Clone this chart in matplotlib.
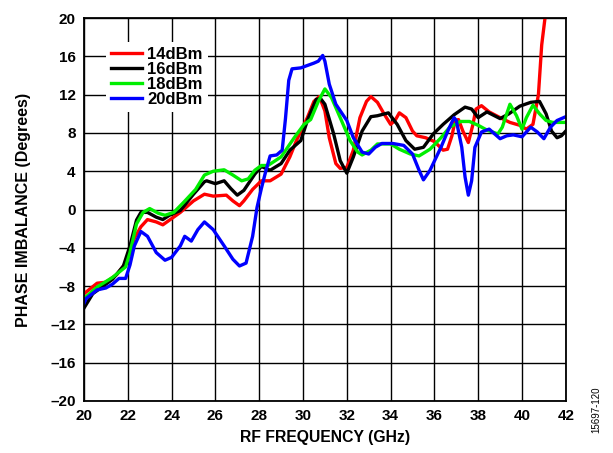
import matplotlib.pyplot as plt
from matplotlib.ticker import MultipleLocator, FuncFormatter

plt.rcParams['font.family'] = ['Liberation Sans', 'DejaVu Sans']

# phase imbalance vs RF frequency
red_x = [20.0, 20.6, 21.0, 21.5, 21.9, 22.0, 22.3, 22.6, 22.9, 23.3, 23.6, 24.0, 24.4, 25.0, 25.5,
         25.9, 26.5, 26.8, 27.1, 27.3, 27.7, 28.1, 28.5, 29.0, 29.4, 29.7, 30.2, 30.5, 30.75, 31.0,
         31.2, 31.5, 31.7, 32.0, 32.3, 32.6, 32.9, 33.1, 33.4, 33.7, 34.0, 34.2, 34.4, 34.7, 35.0,
         35.2, 35.6, 36.0, 36.4, 36.6, 36.8, 36.95, 37.1, 37.3, 37.55, 37.75, 37.9, 38.15, 38.5, 39.0,
         39.45, 39.9, 40.2, 40.5, 40.75, 40.9, 41.05, 41.15]
red_y = [-8.8, -7.7, -7.6, -6.8, -5.6, -5.2, -3.0, -1.8, -1.05, -1.3, -1.6, -0.95, -0.3, 0.9, 1.6,
         1.4, 1.5, 0.9, 0.4, 0.9, 2.1, 3.0, 3.0, 3.7, 5.5, 7.2, 9.6, 11.3, 11.8, 10.3,
         7.5, 4.8, 4.3, 4.4, 6.2, 9.6, 11.3, 11.8, 11.2, 10.0, 8.9, 9.3, 10.1, 9.6, 8.2,
         7.7, 7.5, 7.1, 6.2, 6.3, 7.7, 9.3, 9.4, 8.2, 7.0, 8.8, 10.5, 10.85, 10.2, 9.6,
         9.1, 8.8, 8.4, 8.9, 12.0, 17.2, 20.0, 23.0]

black_x = [20.0, 20.4, 21.0, 21.3, 21.8, 22.1, 22.4, 22.6, 22.9, 23.3, 23.6, 23.9, 24.4, 25.0, 25.5,
           25.6, 26.0, 26.4, 26.7, 27.0, 27.3, 27.8, 28.1, 28.5, 29.0, 29.4, 29.9, 30.2, 30.6, 30.8,
           31.0, 31.4, 31.7, 32.0, 32.3, 32.7, 33.1, 33.4, 33.9, 34.3, 34.7, 35.1, 35.5, 35.95, 36.4,
           36.9, 37.4, 37.7, 38.0, 38.4, 39.0, 39.4, 39.9, 40.4, 40.8, 41.1, 41.35, 41.6, 41.8, 42.0]
black_y = [-10.3, -8.8, -7.8, -7.3, -5.9, -3.8, -1.1, -0.3, -0.3, -0.8, -1.05, -0.6, -0.1, 1.6, 2.9,
           3.0, 2.7, 3.0, 2.2, 1.5, 2.0, 3.7, 4.5, 4.1, 4.8, 6.2, 7.2, 9.3, 11.5, 11.6,
           11.0, 7.9, 5.1, 3.8, 5.5, 8.2, 9.7, 9.8, 10.1, 8.9, 7.2, 6.3, 6.5, 7.9, 8.9,
           9.9, 10.7, 10.5, 9.6, 10.2, 9.5, 10.0, 10.8, 11.2, 11.3, 10.0, 8.2, 7.5, 7.7, 8.2]

green_x = [20.0, 20.6, 21.3, 21.9, 22.1, 22.4, 22.7, 23.0, 23.4, 23.7, 24.1, 24.55, 25.1, 25.5, 25.9,
           26.4, 26.8, 27.2, 27.5, 27.8, 28.1, 28.4, 29.0, 29.6, 30.05, 30.35, 30.7, 31.0, 31.3, 31.7,
           32.15, 32.5, 32.7, 33.1, 33.4, 34.0, 34.4, 34.9, 35.3, 35.8, 36.3, 36.7, 37.2, 37.6, 38.0,
           38.4, 38.9, 39.1, 39.2, 39.45, 39.75, 40.0, 40.2, 40.5, 40.8, 41.1, 41.4, 42.0]
green_y = [-9.3, -8.1, -7.1, -6.0, -4.5, -1.5, -0.3, 0.1, -0.4, -0.6, -0.3, 0.75, 2.1, 3.6, 4.0,
           4.15, 3.6, 3.0, 3.2, 4.1, 4.6, 4.6, 5.5, 7.5, 8.9, 9.4, 11.3, 12.6, 11.7, 9.6,
           7.2, 6.0, 5.7, 6.2, 6.85, 6.85, 6.3, 5.8, 5.6, 6.3, 7.5, 8.6, 9.2, 9.2, 8.8,
           8.3, 7.9, 8.6, 9.3, 11.0, 9.8, 8.4, 9.6, 10.9, 10.0, 9.3, 9.1, 9.1]

blue_x = [20.0, 20.1, 20.6, 21.0, 21.3, 21.6, 21.9, 22.1, 22.3, 22.6, 22.9, 23.3, 23.7, 24.0, 24.4,
          24.6, 24.9, 25.2, 25.5, 25.9, 26.4, 26.8, 27.1, 27.4, 27.7, 27.9, 28.1, 28.3, 28.5, 28.8,
          29.05, 29.2, 29.35, 29.5, 29.9, 30.5, 30.7, 30.9, 31.0, 31.2, 31.5, 32.0, 32.3, 32.7, 33.0,
          33.3, 33.6, 34.1, 34.6, 35.0, 35.3, 35.5, 35.8, 36.3, 36.65, 36.9, 37.0, 37.25, 37.4, 37.55,
          37.7, 37.85, 38.15, 38.5, 39.0, 39.3, 39.6, 40.0, 40.4, 40.7, 41.0, 41.3, 41.6, 42.0]
blue_y = [-9.8, -9.3, -8.4, -8.2, -7.8, -7.2, -7.2, -5.8, -3.8, -2.3, -2.8, -4.5, -5.3, -5.0, -3.8,
          -2.8, -3.3, -2.1, -1.3, -2.1, -3.8, -5.2, -5.9, -5.6, -2.8, 0.2, 2.2, 4.0, 5.6, 5.7,
          6.2, 9.5, 13.5, 14.7, 14.8, 15.3, 15.5, 16.1, 15.5, 13.1, 11.0, 9.3, 7.5, 6.0, 5.8,
          6.5, 6.9, 6.9, 6.7, 5.8, 4.1, 3.1, 4.1, 6.5, 8.4, 9.6, 9.3, 6.5, 3.4, 1.5,
          3.0, 6.5, 8.1, 8.4, 7.4, 7.7, 7.8, 7.6, 8.6, 8.1, 7.4, 8.6, 9.3, 9.7]

series = [('14dBm', red_x, red_y, '#ff0000'),
          ('16dBm', black_x, black_y, '#000000'),
          ('18dBm', green_x, green_y, '#00ee00'),
          ('20dBm', blue_x, blue_y, '#0000ff')]

fig = plt.figure(figsize=(6.13, 4.53), dpi=100)
ax = fig.add_axes([0.137, 0.115, 0.786, 0.845])

for label, xs, ys, color in series:
    ax.plot(xs, ys, color=color, lw=2.4, label=label, solid_joinstyle='round')

ax.set_xlim(20, 42)
ax.set_ylim(-20, 20)
ax.xaxis.set_major_locator(MultipleLocator(2))
ax.yaxis.set_major_locator(MultipleLocator(4))
ax.yaxis.set_major_formatter(FuncFormatter(lambda v, p: f'{v:.0f}'.replace('-', '\u2013')))
ax.grid(True, color='black', lw=1.0)
ax.set_axisbelow(True)
ax.tick_params(length=0, labelsize=11, pad=6)
for lab in ax.get_xticklabels() + ax.get_yticklabels():
    lab.set_fontweight('bold')
for s in ax.spines.values():
    s.set_linewidth(1.3)

ax.set_xlabel('RF FREQUENCY (GHz)', fontsize=11.3, fontweight='bold', labelpad=5)
ax.set_ylabel('PHASE IMBALANCE (Degrees)', fontsize=11.5, fontweight='bold', labelpad=14)

leg = ax.legend(loc='upper left', bbox_to_anchor=(0.028, 0.96), frameon=True, fancybox=False,
                edgecolor='none', framealpha=1, handlelength=1.9, handletextpad=0.3,
                labelspacing=0.0, borderpad=0.3, prop={'weight': 'bold', 'size': 12})

fig.text(0.972, 0.095, '15697-120', rotation=90, fontsize=7, ha='center', va='center')

fig.savefig('out.png', dpi=100)
